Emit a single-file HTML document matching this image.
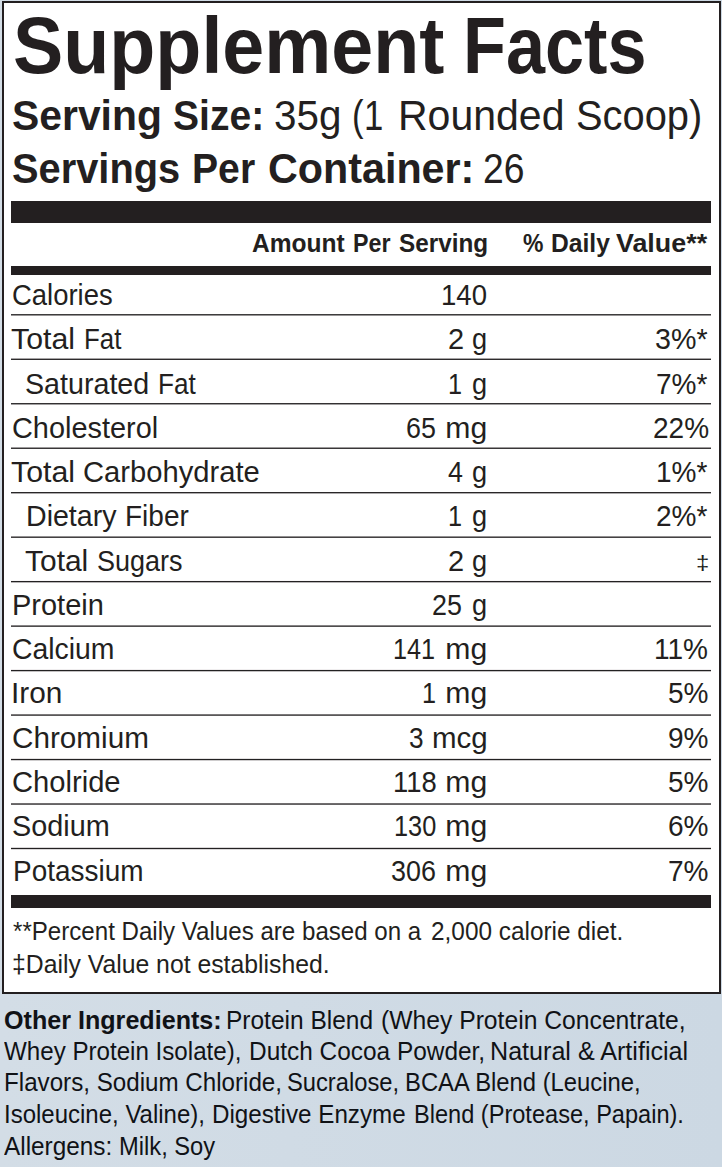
<!DOCTYPE html>
<html><head><meta charset="utf-8"><style>
html,body{margin:0;padding:0;}
body{width:722px;height:1167px;position:relative;overflow:hidden;font-family:"Liberation Sans", sans-serif;color:#231f20;
background:linear-gradient(90deg,#d3dde6 0%,#d0dbe5 40%,#ccd8e3 100%);}
.box{position:absolute;left:2px;top:1px;width:715px;height:989px;border:2px solid #231f20;background:#fff;}
.bar{position:absolute;left:11px;width:700px;background:#231f20;}
.ln{position:absolute;left:11px;width:700px;height:1px;}
.t{position:absolute;white-space:nowrap;line-height:1;transform-origin:0 0;}
</style></head><body>
<div class="box"></div>
<div class="bar" style="top:201.4px;height:21.8px"></div>
<div class="bar" style="top:266.1px;height:8.9px"></div>
<div class="ln" style="top:314px;background:rgb(62,60,61)"></div>
<div class="ln" style="top:315px;background:rgb(150,148,149)"></div>
<div class="ln" style="top:358px;background:rgb(167,165,166)"></div>
<div class="ln" style="top:359px;background:rgb(46,44,45)"></div>
<div class="ln" style="top:403px;background:rgb(51,49,50)"></div>
<div class="ln" style="top:404px;background:rgb(161,159,160)"></div>
<div class="ln" style="top:447px;background:rgb(156,154,155)"></div>
<div class="ln" style="top:448px;background:rgb(57,55,56)"></div>
<div class="ln" style="top:492px;background:rgb(41,39,40)"></div>
<div class="ln" style="top:493px;background:rgb(172,170,171)"></div>
<div class="ln" style="top:536px;background:rgb(145,143,144)"></div>
<div class="ln" style="top:537px;background:rgb(68,66,67)"></div>
<div class="ln" style="top:580px;background:rgb(250,248,249)"></div>
<div class="ln" style="top:581px;background:rgb(35,33,34)"></div>
<div class="ln" style="top:582px;background:rgb(183,181,182)"></div>
<div class="ln" style="top:625px;background:rgb(134,132,133)"></div>
<div class="ln" style="top:626px;background:rgb(79,77,78)"></div>
<div class="ln" style="top:669px;background:rgb(239,237,238)"></div>
<div class="ln" style="top:670px;background:rgb(35,33,34)"></div>
<div class="ln" style="top:671px;background:rgb(195,193,194)"></div>
<div class="ln" style="top:714px;background:rgb(123,121,122)"></div>
<div class="ln" style="top:715px;background:rgb(90,88,89)"></div>
<div class="ln" style="top:758px;background:rgb(228,226,227)"></div>
<div class="ln" style="top:759px;background:rgb(35,33,34)"></div>
<div class="ln" style="top:760px;background:rgb(206,204,205)"></div>
<div class="ln" style="top:803px;background:rgb(112,110,111)"></div>
<div class="ln" style="top:804px;background:rgb(101,99,100)"></div>
<div class="ln" style="top:847px;background:rgb(217,215,216)"></div>
<div class="ln" style="top:848px;background:rgb(35,33,34)"></div>
<div class="ln" style="top:849px;background:rgb(217,215,216)"></div>
<div class="bar" style="top:895.1px;height:12.6px"></div>
<div class="t" style="left:12.59px;top:5.70px;font-size:79px;font-weight:700;transform:scaleX(0.9540)">Supplement</div>
<div class="t" style="left:462.66px;top:5.70px;font-size:79px;font-weight:700;transform:scaleX(0.8889)">Facts</div>
<div class="t" style="left:11.55px;top:93.80px;font-size:43px;font-weight:700;transform:scaleX(0.9503)">Serving</div>
<div class="t" style="left:173.09px;top:93.80px;font-size:43px;font-weight:700;transform:scaleX(0.9083)">Size:</div>
<div class="t" style="left:274.06px;top:93.80px;font-size:43px;transform:scaleX(0.9391)">35g</div>
<div class="t" style="left:352.39px;top:93.80px;font-size:43px;transform:scaleX(0.8074)">(</div>
<div class="t" style="left:364.41px;top:93.80px;font-size:43px;transform:scaleX(0.8074)">1</div>
<div class="t" style="left:398.09px;top:93.80px;font-size:43px;transform:scaleX(0.9538)">Rounded</div>
<div class="t" style="left:575.67px;top:93.80px;font-size:43px;transform:scaleX(0.9269)">Scoop)</div>
<div class="t" style="left:11.57px;top:147.00px;font-size:43px;font-weight:700;transform:scaleX(0.9261)">Servings</div>
<div class="t" style="left:192.38px;top:147.00px;font-size:43px;font-weight:700;transform:scaleX(0.9103)">Per</div>
<div class="t" style="left:267.54px;top:147.00px;font-size:43px;font-weight:700;transform:scaleX(0.9597)">Container:</div>
<div class="t" style="left:483.33px;top:147.00px;font-size:43px;transform:scaleX(0.8674)">26</div>
<div class="t" style="left:251.70px;top:230.60px;font-size:25.4px;font-weight:700;transform:scaleX(0.9670)">Amount</div>
<div class="t" style="left:352.88px;top:230.60px;font-size:25.4px;font-weight:700;transform:scaleX(0.9150)">Per</div>
<div class="t" style="left:398.70px;top:230.60px;font-size:25.4px;font-weight:700;transform:scaleX(0.9565)">Serving</div>
<div class="t" style="left:523.30px;top:230.60px;font-size:25.4px;font-weight:700;transform:scaleX(0.9043)">%</div>
<div class="t" style="left:551.43px;top:230.60px;font-size:25.4px;font-weight:700;transform:scaleX(0.9700)">Daily</div>
<div class="t" style="left:616.18px;top:230.60px;font-size:25.4px;font-weight:700;transform:scaleX(1.0579)">Value**</div>
<div class="t" style="left:11.79px;top:280.00px;font-size:30.2px;transform:scaleX(0.9091)">Calories</div>
<div class="t" style="left:441.39px;top:280.00px;font-size:30.2px;transform:scaleX(0.9122)">140</div>
<div class="t" style="left:11.00px;top:324.27px;font-size:30.2px;transform:scaleX(1.0032)">Total</div>
<div class="t" style="left:84.14px;top:324.27px;font-size:30.2px;transform:scaleX(0.8558)">Fat</div>
<div class="t" style="left:447.64px;top:324.27px;font-size:30.2px;transform:scaleX(0.9600)">2</div>
<div class="t" style="left:471.90px;top:324.27px;font-size:30.2px;transform:scaleX(0.9000)">g</div>
<div class="t" style="left:655.15px;top:324.27px;font-size:30.2px;transform:scaleX(0.9491)">3%*</div>
<div class="t" style="left:24.65px;top:368.54px;font-size:30.2px;transform:scaleX(0.9488)">Saturated</div>
<div class="t" style="left:158.23px;top:368.54px;font-size:30.2px;transform:scaleX(0.8674)">Fat</div>
<div class="t" style="left:448.35px;top:368.54px;font-size:30.2px;transform:scaleX(0.8355)">1</div>
<div class="t" style="left:471.90px;top:368.54px;font-size:30.2px;transform:scaleX(0.9000)">g</div>
<div class="t" style="left:656.31px;top:368.54px;font-size:30.2px;transform:scaleX(0.9284)">7%*</div>
<div class="t" style="left:11.74px;top:412.81px;font-size:30.2px;transform:scaleX(0.9570)">Cholesterol</div>
<div class="t" style="left:406.21px;top:412.81px;font-size:30.2px;transform:scaleX(0.8906)">65</div>
<div class="t" style="left:445.30px;top:412.81px;font-size:30.2px;transform:scaleX(1.0000)">mg</div>
<div class="t" style="left:652.57px;top:412.81px;font-size:30.2px;transform:scaleX(0.9288)">22%</div>
<div class="t" style="left:11.00px;top:457.08px;font-size:30.2px;transform:scaleX(1.0032)">Total</div>
<div class="t" style="left:83.33px;top:457.08px;font-size:30.2px;transform:scaleX(0.9663)">Carbohydrate</div>
<div class="t" style="left:447.90px;top:457.08px;font-size:30.2px;transform:scaleX(0.8882)">4</div>
<div class="t" style="left:471.90px;top:457.08px;font-size:30.2px;transform:scaleX(0.9000)">g</div>
<div class="t" style="left:656.31px;top:457.08px;font-size:30.2px;transform:scaleX(0.9284)">1%*</div>
<div class="t" style="left:25.85px;top:501.35px;font-size:30.2px;transform:scaleX(0.9463)">Dietary</div>
<div class="t" style="left:125.07px;top:501.35px;font-size:30.2px;transform:scaleX(0.9279)">Fiber</div>
<div class="t" style="left:448.35px;top:501.35px;font-size:30.2px;transform:scaleX(0.8355)">1</div>
<div class="t" style="left:471.90px;top:501.35px;font-size:30.2px;transform:scaleX(0.9000)">g</div>
<div class="t" style="left:656.31px;top:501.35px;font-size:30.2px;transform:scaleX(0.9284)">2%*</div>
<div class="t" style="left:24.50px;top:545.62px;font-size:30.2px;transform:scaleX(0.9921)">Total</div>
<div class="t" style="left:96.81px;top:545.62px;font-size:30.2px;transform:scaleX(0.8947)">Sugars</div>
<div class="t" style="left:447.64px;top:545.62px;font-size:30.2px;transform:scaleX(0.9600)">2</div>
<div class="t" style="left:471.90px;top:545.62px;font-size:30.2px;transform:scaleX(0.9000)">g</div>
<div class="t" style="left:695.76px;top:552.12px;font-size:21px;transform:scaleX(1.1400)">&#8225;</div>
<div class="t" style="left:12.24px;top:589.89px;font-size:30.2px;transform:scaleX(0.9596)">Protein</div>
<div class="t" style="left:432.11px;top:589.89px;font-size:30.2px;transform:scaleX(0.8906)">25</div>
<div class="t" style="left:471.90px;top:589.89px;font-size:30.2px;transform:scaleX(0.9000)">g</div>
<div class="t" style="left:11.86px;top:634.16px;font-size:30.2px;transform:scaleX(0.9402)">Calcium</div>
<div class="t" style="left:392.59px;top:634.16px;font-size:30.2px;transform:scaleX(0.8355)">141</div>
<div class="t" style="left:445.30px;top:634.16px;font-size:30.2px;transform:scaleX(1.0000)">mg</div>
<div class="t" style="left:654.45px;top:634.16px;font-size:30.2px;transform:scaleX(0.9284)">11%</div>
<div class="t" style="left:11.22px;top:678.43px;font-size:30.2px;transform:scaleX(0.9878)">Iron</div>
<div class="t" style="left:422.00px;top:678.43px;font-size:30.2px;transform:scaleX(0.8355)">1</div>
<div class="t" style="left:445.30px;top:678.43px;font-size:30.2px;transform:scaleX(1.0000)">mg</div>
<div class="t" style="left:668.38px;top:678.43px;font-size:30.2px;transform:scaleX(0.9284)">5%</div>
<div class="t" style="left:11.82px;top:722.70px;font-size:30.2px;transform:scaleX(0.9832)">Chromium</div>
<div class="t" style="left:408.83px;top:722.70px;font-size:30.2px;transform:scaleX(0.8667)">3</div>
<div class="t" style="left:431.62px;top:722.70px;font-size:30.2px;transform:scaleX(0.9764)">mcg</div>
<div class="t" style="left:668.38px;top:722.70px;font-size:30.2px;transform:scaleX(0.9284)">9%</div>
<div class="t" style="left:11.83px;top:766.97px;font-size:30.2px;transform:scaleX(0.9658)">Cholride</div>
<div class="t" style="left:392.79px;top:766.97px;font-size:30.2px;transform:scaleX(0.9085)">118</div>
<div class="t" style="left:445.30px;top:766.97px;font-size:30.2px;transform:scaleX(1.0000)">mg</div>
<div class="t" style="left:668.38px;top:766.97px;font-size:30.2px;transform:scaleX(0.9284)">5%</div>
<div class="t" style="left:12.24px;top:811.24px;font-size:30.2px;transform:scaleX(0.9554)">Sodium</div>
<div class="t" style="left:393.66px;top:811.24px;font-size:30.2px;transform:scaleX(0.8388)">130</div>
<div class="t" style="left:445.30px;top:811.24px;font-size:30.2px;transform:scaleX(1.0000)">mg</div>
<div class="t" style="left:668.38px;top:811.24px;font-size:30.2px;transform:scaleX(0.9284)">6%</div>
<div class="t" style="left:12.67px;top:855.51px;font-size:30.2px;transform:scaleX(0.9259)">Potassium</div>
<div class="t" style="left:391.01px;top:855.51px;font-size:30.2px;transform:scaleX(0.8918)">306</div>
<div class="t" style="left:445.30px;top:855.51px;font-size:30.2px;transform:scaleX(1.0000)">mg</div>
<div class="t" style="left:668.38px;top:855.51px;font-size:30.2px;transform:scaleX(0.9284)">7%</div>
<div class="t" style="left:12.50px;top:919.40px;font-size:25.2px;transform:scaleX(0.9571)">**Percent Daily Values are based on a</div>
<div class="t" style="left:430.80px;top:919.40px;font-size:25.2px;transform:scaleX(0.9675)">2,000 calorie diet.</div>
<div class="t" style="left:11.52px;top:951.60px;font-size:25.2px;transform:scaleX(0.9835)">&#8225;Daily Value not established.</div>
<div class="t" style="left:3.70px;top:1007.50px;font-size:24.9px;font-weight:700;color:#101216;transform:scaleX(1.0089)">Other Ingredients:</div>
<div class="t" style="left:226.32px;top:1007.50px;font-size:24.9px;color:#101216;transform:scaleX(0.9838)">Protein Blend</div>
<div class="t" style="left:381.01px;top:1007.50px;font-size:24.9px;color:#101216;transform:scaleX(0.9918)">(Whey Protein Concentrate,</div>
<div class="t" style="left:4.20px;top:1038.70px;font-size:24.9px;color:#101216;transform:scaleX(0.9697)">Whey Protein Isolate),</div>
<div class="t" style="left:248.92px;top:1038.70px;font-size:24.9px;color:#101216;transform:scaleX(0.9807)">Dutch Cocoa Powder,</div>
<div class="t" style="left:490.19px;top:1038.70px;font-size:24.9px;color:#101216;transform:scaleX(1.0087)">Natural &amp; Artificial</div>
<div class="t" style="left:3.73px;top:1070.40px;font-size:24.9px;color:#101216;transform:scaleX(0.9708)">Flavors, Sodium Chloride,</div>
<div class="t" style="left:287.35px;top:1070.40px;font-size:24.9px;color:#101216;transform:scaleX(0.9530)">Sucralose,</div>
<div class="t" style="left:405.24px;top:1070.40px;font-size:24.9px;color:#101216;transform:scaleX(0.9566)">BCAA Blend (Leucine,</div>
<div class="t" style="left:3.74px;top:1102.00px;font-size:24.9px;color:#101216;transform:scaleX(0.9641)">Isoleucine, Valine),</div>
<div class="t" style="left:212.33px;top:1102.00px;font-size:24.9px;color:#101216;transform:scaleX(0.9722)">Digestive Enzyme</div>
<div class="t" style="left:414.45px;top:1102.00px;font-size:24.9px;color:#101216;transform:scaleX(0.9470)">Blend (Protease, Papain).</div>
<div class="t" style="left:4.20px;top:1134.00px;font-size:24.9px;color:#101216;transform:scaleX(0.9780)">Allergens:</div>
<div class="t" style="left:118.95px;top:1134.00px;font-size:24.9px;color:#101216;transform:scaleX(0.9525)">Milk, Soy</div>
</body></html>
